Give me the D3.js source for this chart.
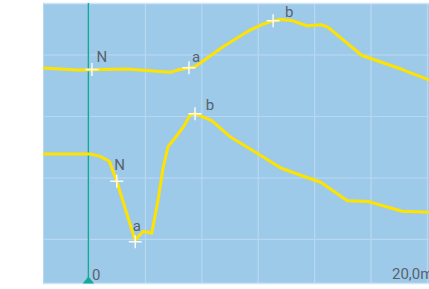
<!DOCTYPE html>
<html>
<head>
<meta charset="utf-8">
<script src="https://cdn.jsdelivr.net/npm/d3@7"></script>
<style>
html, body { margin: 0; padding: 0; background: #fff; overflow: hidden; }
</style>
</head>
<body>
<div class="chart"></div>
<script>
let w = 429;
let h = 289;

// time in ms, amplitude in µV
const upperT = [-2.04, -0.53, 1.68, 3.59, 4.03, 4.70, 5.94, 7.14, 7.67, 8.10, 8.47, 9.00, 9.66, 10.29, 10.60, 12.10, 13.83, 15.07, 15.80];
const upperV = [139.4, 137.8, 138.6, 135.9, 138.2, 140.5, 156.7, 170.3, 174.8, 177.3, 178.9, 178.0, 173.8, 174.6, 172.5, 149.6, 138.6, 129.7, 124.8];

const lowerT = [-2.04, 0.04, 0.49, 0.90, 1.23, 2.04, 2.41, 2.78, 3.06, 3.28, 3.50, 3.81, 4.20, 4.48, 4.70, 5.44, 6.25, 7.58, 8.50, 9.35, 10.27, 11.45, 12.37, 13.88, 15.07, 15.80];
const lowerV = [69.5, 69.5, 67.6, 63.6, 47.3, -0.5, 6.7, 5.0, 32.0, 58.0, 75.4, 82.5, 92.0, 101.2, 102.3, 96.6, 83.6, 68.7, 58.1, 52.4, 46.5, 31.5, 30.9, 22.9, 22.1, 22.0];

const markNames = ["N", "a", "b"];
const upperMarkT = [0.13, 4.43, 8.16];
const upperMarkV = [138.2, 139.7, 177.9];
const lowerMarkT = [1.23, 2.05, 4.70];
const lowerMarkV = [47.3, -1.8, 102.3];

const xTicks = [0, 2.5, 5, 7.5, 10, 12.5, 15];
const yTicks = [0, 50, 100, 150];
const cursorLabel = "0";
const spanLabel = "20,0ms";

// label offsets from the cross, px
const upperLabelOff = [[4.5, -7.5], [3, -5.7], [12, -4]];
const lowerLabelOff = [[-2.4, -11], [-2.6, -10.4], [10.7, -3.7]];

const x = d3.scaleLinear().domain([-2.04, 15.07]).range([43, 429]);
const y = d3.scaleLinear().domain([-35.4, 192.3]).range([283, 3]);

let svg = d3.select('.chart')
	.append('svg')
	.attr('width', w)
	.attr('height', h)
	.style('display', 'block');

const plotRight = x(16.5);

svg.append('rect')
	.attr('x', 43)
	.attr('y', 3)
	.attr('width', plotRight - 43)
	.attr('height', 280)
	.attr('fill', '#9ecaea');

// grid
svg.selectAll('.vgrid')
	.data(xTicks)
	.enter()
	.append('line')
	.attr('x1', d => x(d)).attr('x2', d => x(d))
	.attr('y1', 3).attr('y2', 283)
	.attr('stroke', '#b7d8f1')
	.attr('stroke-width', 1.2);

svg.selectAll('.hgrid')
	.data(yTicks)
	.enter()
	.append('line')
	.attr('x1', 43).attr('x2', plotRight)
	.attr('y1', d => y(d)).attr('y2', d => y(d))
	.attr('stroke', '#b7d8f1')
	.attr('stroke-width', 1.2);

// frame top / bottom / left
svg.append('line').attr('x1', 43).attr('x2', plotRight).attr('y1', 3.5).attr('y2', 3.5)
	.attr('stroke', '#cfe4f5').attr('stroke-width', 1.5);
svg.append('line').attr('x1', 43).attr('x2', plotRight).attr('y1', 283.5).attr('y2', 283.5)
	.attr('stroke', '#cfe4f5').attr('stroke-width', 1.5);
svg.append('line').attr('x1', 43.5).attr('x2', 43.5).attr('y1', 3).attr('y2', 284)
	.attr('stroke', '#b7d8f1').attr('stroke-width', 1);

// cursor at 0
svg.append('line')
	.attr('x1', x(0) - 0.6).attr('x2', x(0) - 0.6)
	.attr('y1', 3).attr('y2', 283)
	.attr('stroke', '#13a89b')
	.attr('stroke-width', 1.5);

svg.append('path')
	.attr('d', `M${x(0) - 0.6},276.5L${x(0) - 6.3},283.5L${x(0) + 5.1},283.5Z`)
	.attr('fill', '#13a89b');

const lineFun = d3.line()
	.x(d => x(d[0]))
	.y(d => y(d[1]))
	.curve(d3.curveLinear);

[[upperT, upperV], [lowerT, lowerV]].forEach(function(s){
	svg.append('path')
		.attr('d', lineFun(s[0].map((t, i) => [t, s[1][i]])))
		.attr('stroke', '#ffe300')
		.attr('stroke-width', 3)
		.attr('stroke-linejoin', 'round')
		.attr('fill', 'none');
});

// markers
const marks = [];
markNames.forEach(function(n, i){
	marks.push({name: n, t: upperMarkT[i], v: upperMarkV[i], off: upperLabelOff[i]});
	marks.push({name: n, t: lowerMarkT[i], v: lowerMarkV[i], off: lowerLabelOff[i]});
});

svg.selectAll('.cross')
	.data(marks)
	.enter()
	.append('path')
	.attr('d', d => `M${x(d.t) - 6.5},${y(d.v)}H${x(d.t) + 6.5}M${x(d.t)},${y(d.v) - 6.5}V${y(d.v) + 6.5}`)
	.attr('stroke', '#ffffff')
	.attr('stroke-width', 1.5)
	.attr('opacity', 0.9);

svg.selectAll('.mlabel')
	.data(marks)
	.enter()
	.append('text')
	.text(d => d.name)
	.attr('x', d => x(d.t) + d.off[0])
	.attr('y', d => y(d.v) + d.off[1])
	.attr('font-family', 'Roboto, sans-serif')
	.attr('font-size', '15px')
	.attr('fill', '#58626c');

// axis labels
svg.append('text')
	.text(cursorLabel)
	.attr('x', x(0) + 3)
	.attr('y', 280)
	.attr('font-family', 'Roboto, sans-serif')
	.attr('font-size', '15px')
	.attr('fill', '#58626c');

svg.append('text')
	.text(spanLabel)
	.attr('x', 392)
	.attr('y', 279)
	.attr('font-family', 'Roboto, sans-serif')
	.attr('font-size', '15px')
	.attr('fill', '#58626c');
</script>
</body>
</html>
